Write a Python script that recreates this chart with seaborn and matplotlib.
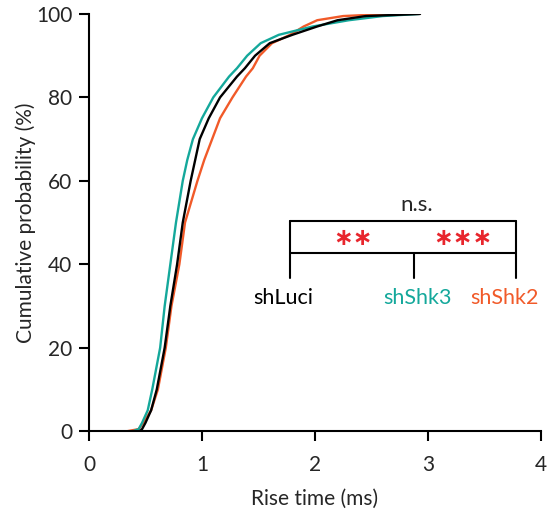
import matplotlib
matplotlib.use("Agg")
import matplotlib.pyplot as plt
import seaborn as sns
import pandas as pd

# 누적 확률 (%) 와 그룹별 rise time (ms)
pct = [0, 0.5, 2, 5, 10, 20, 30, 40, 50, 60, 65, 70, 75, 80, 85, 87, 90, 93, 95, 97,
       98.5, 99.5, 100]
rise_shLuci = [0.45, 0.47, 0.50, 0.55, 0.60, 0.67, 0.72, 0.78, 0.83, 0.90, 0.94, 0.98,
               1.06, 1.16, 1.31, 1.38, 1.47, 1.60, 1.80, 2.02, 2.20, 2.45, 2.93]
rise_shShk3 = [0.39, 0.44, 0.47, 0.52, 0.56, 0.63, 0.67, 0.72, 0.77, 0.83, 0.87, 0.92,
               1.00, 1.10, 1.24, 1.31, 1.40, 1.52, 1.68, 1.98, 2.30, 2.60, 2.92]
rise_shShk2 = [0.34, 0.44, 0.48, 0.55, 0.61, 0.68, 0.73, 0.80, 0.85, 0.96, 1.02, 1.09,
               1.16, 1.27, 1.39, 1.45, 1.51, 1.62, 1.78, 1.90, 2.02, 2.25, 2.65]

groups = ["shShk2", "shShk3", "shLuci"]
colors = {"shLuci": "#000000", "shShk3": "#14a89b", "shShk2": "#f15a29"}
label_x = {"shLuci": 1.72, "shShk3": 2.91, "shShk2": 3.68}

sns.set_style("ticks")
plt.rcParams["font.family"] = ["Lato", "DejaVu Sans"]

df = pd.concat([
    pd.DataFrame({"rise": rise_shShk2, "pct": pct, "group": "shShk2"}),
    pd.DataFrame({"rise": rise_shShk3, "pct": pct, "group": "shShk3"}),
    pd.DataFrame({"rise": rise_shLuci, "pct": pct, "group": "shLuci"}),
])

fig, ax = plt.subplots(figsize=(5.56, 5.17), dpi=100)
fig.subplots_adjust(left=0.160, right=0.973, bottom=0.166, top=0.973)

sns.lineplot(data=df, x="rise", y="pct", hue="group", hue_order=groups,
             palette=colors, estimator=None, sort=False, linewidth=1.7,
             legend=False, ax=ax)

ax.set_xlim(0, 4)
ax.set_ylim(0, 100)
ax.set_xticks([0, 1, 2, 3, 4])
ax.set_yticks([0, 20, 40, 60, 80, 100])
ax.set_xlabel("Rise time (ms)", fontsize=15, labelpad=10)
ax.set_ylabel("Cumulative probability (%)", fontsize=15, labelpad=0)
ax.tick_params(labelsize=15, width=1.5, length=7, color="black")
ax.tick_params(axis="x", pad=10)
ax.tick_params(axis="y", pad=5)
sns.despine(ax=ax)
for s in ["left", "bottom"]:
    ax.spines[s].set_linewidth(1.5)
    ax.spines[s].set_color("black")

# 통계 표시 브래킷
lw = 1.5
ax.plot([1.78, 3.78], [50.4, 50.4], color="black", lw=lw)
ax.plot([1.78, 3.78], [42.7, 42.7], color="black", lw=lw)
ax.plot([1.78, 1.78], [36.7, 50.4], color="black", lw=lw)
ax.plot([3.78, 3.78], [36.7, 50.4], color="black", lw=lw)
ax.plot([2.88, 2.88], [36.7, 42.7], color="black", lw=lw)
ax.text(2.9, 54.2, "n.s.", ha="center", va="center", fontsize=16)
ax.text(2.34, 46.2, "\u2217\u2217", ha="center", va="center", fontsize=17,
        color="#e8262d", family="DejaVu Sans", fontweight="bold")
ax.text(3.31, 46.2, "\u2217\u2217\u2217", ha="center", va="center", fontsize=17,
        color="#e8262d", family="DejaVu Sans", fontweight="bold")
for g in ["shLuci", "shShk3", "shShk2"]:
    ax.text(label_x[g], 32.0, g, ha="center", va="center", fontsize=15.5, color=colors[g])

fig.savefig("out.png", dpi=100)
